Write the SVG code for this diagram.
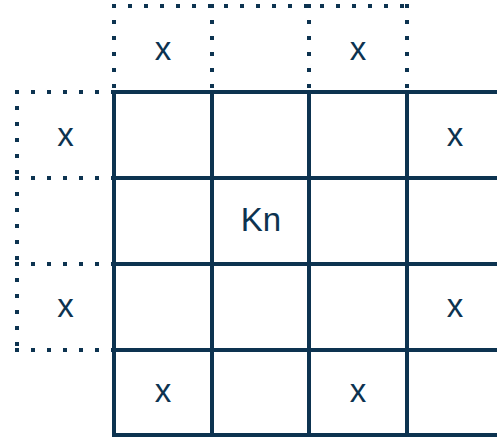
<svg xmlns="http://www.w3.org/2000/svg" width="497" height="437" viewBox="0 0 497 437">
  <style>
    .solid { stroke: #0d3350; stroke-width: 4; fill: none; stroke-linecap: square; }
    .dot { stroke: #0d3350; stroke-width: 4; fill: none; stroke-dasharray: 4 12; stroke-linecap: butt; }
    .lbl { font-family: "Liberation Sans", Arial, sans-serif; font-size: 33px; fill: #0d3350; text-anchor: middle; }
  </style>
  <rect width="497" height="437" fill="#ffffff"/>
  <g id="connectors">
    <g id="dotted-top">
      <line class="dot" x1="112" y1="6" x2="409" y2="6"/>
      <line class="dot" x1="114" y1="4" x2="114" y2="90"/>
      <line class="dot" x1="212" y1="4" x2="212" y2="90"/>
      <line class="dot" x1="309" y1="4" x2="309" y2="90"/>
      <line class="dot" x1="407" y1="4" x2="407" y2="90"/>
    </g>
    <g id="dotted-left">
      <line class="dot" x1="17" y1="90" x2="17" y2="178"/>
      <line class="dot" x1="17" y1="176" x2="17" y2="264"/>
      <line class="dot" x1="17" y1="262" x2="17" y2="350"/>
      <line class="dot" x1="15" y1="92" x2="112" y2="92"/>
      <line class="dot" x1="15" y1="178" x2="112" y2="178"/>
      <line class="dot" x1="15" y1="264" x2="112" y2="264"/>
      <line class="dot" x1="15" y1="350" x2="112" y2="350"/>
    </g>
    <g id="grid">
      <line class="solid" x1="114" y1="92" x2="114" y2="435"/>
      <line class="solid" x1="212" y1="92" x2="212" y2="435"/>
      <line class="solid" x1="309" y1="92" x2="309" y2="435"/>
      <line class="solid" x1="407" y1="92" x2="407" y2="435"/>
      <line class="solid" x1="114" y1="92" x2="499" y2="92"/>
      <line class="solid" x1="114" y1="178" x2="499" y2="178"/>
      <line class="solid" x1="114" y1="264" x2="499" y2="264"/>
      <line class="solid" x1="114" y1="350" x2="499" y2="350"/>
      <line class="solid" x1="114" y1="435" x2="499" y2="435"/>
    </g>
  </g>
  <g id="cell-top-1"><text class="lbl" x="163" y="60">x</text></g>
  <g id="cell-top-3"><text class="lbl" x="358" y="60">x</text></g>
  <g id="cell-left-1"><text class="lbl" x="65.5" y="146">x</text></g>
  <g id="cell-right-1"><text class="lbl" x="455" y="146">x</text></g>
  <g id="cell-kn"><text class="lbl" x="261" y="231">Kn</text></g>
  <g id="cell-left-3"><text class="lbl" x="65.5" y="317">x</text></g>
  <g id="cell-right-3"><text class="lbl" x="455" y="317">x</text></g>
  <g id="cell-bottom-1"><text class="lbl" x="163" y="402">x</text></g>
  <g id="cell-bottom-3"><text class="lbl" x="358" y="402">x</text></g>
</svg>
